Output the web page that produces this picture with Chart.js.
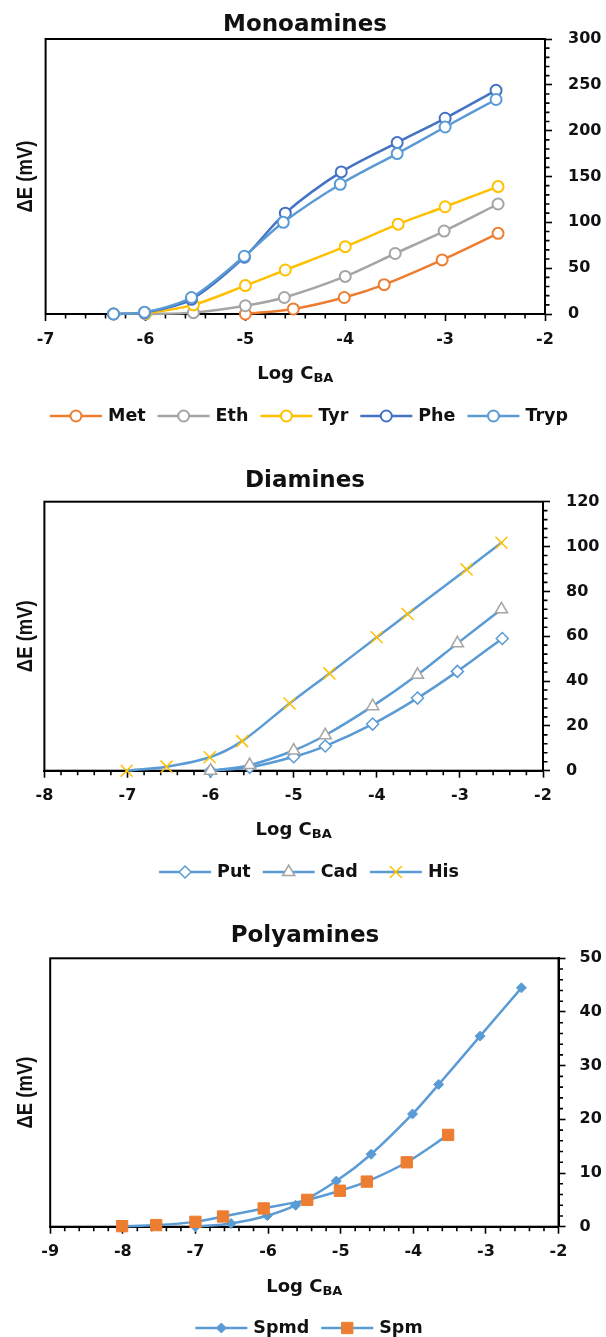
<!DOCTYPE html>
<html>
<head>
<meta charset="utf-8">
<title>Potentiometric response of biogenic amines</title>
<script src="https://cdn.jsdelivr.net/npm/chart.js@4.4.1/dist/chart.umd.min.js"></script>
<style>
  html, body { margin: 0; padding: 0; background: #fff; }
  body { position: relative; width: 606px; height: 1337px; overflow: hidden; }
  canvas { position: absolute; left: 0; }
</style>
</head>
<body>
<canvas id="mono" width="606" height="450" style="top:0px"></canvas>
<canvas id="di" width="606" height="445" style="top:450px"></canvas>
<canvas id="poly" width="606" height="442" style="top:895px"></canvas>
<script>
// ---- Monoamines: log concentration vs. potential change (mV) ----
const metX  = [-5.0, -4.52, -4.01, -3.61, -3.03, -2.47];
const metY  = [0, 5.5, 18, 32, 59, 88];
const ethX  = [-6.0, -5.52, -5.0, -4.61, -4.0, -3.5, -3.01, -2.47];
const ethY  = [0, 1.5, 9, 18, 41, 66, 90.5, 120];
const tyrX  = [-6.32, -6.0, -5.52, -5.0, -4.6, -4.0, -3.47, -3.0, -2.47];
const tyrY  = [0, 1, 10, 31, 48, 73.5, 98, 117, 139];
const pheX  = [-6.32, -6.01, -5.54, -5.01, -4.6, -4.04, -3.48, -3.0, -2.49];
const pheY  = [0, 1.5, 16, 62, 110, 155, 187, 213.5, 244];
const trypX = [-6.32, -6.01, -5.54, -5.01, -4.62, -4.05, -3.48, -3.0, -2.49];
const trypY = [0, 1.8, 18, 63, 100, 141.5, 175, 204, 234];

// ---- Diamines ----
const putX = [-6.0, -5.53, -5.0, -4.62, -4.05, -3.51, -3.03, -2.49];
const putY = [0, 1.5, 6.2, 11, 20.8, 32.4, 44.3, 59];
const cadX = [-6.0, -5.53, -5.0, -4.62, -4.05, -3.51, -3.03, -2.5];
const cadY = [0, 2.5, 9, 15.8, 28.8, 42.8, 56.8, 72];
const hisX = [-7.01, -6.53, -6.01, -5.62, -5.05, -4.57, -4.0, -3.63, -2.92, -2.5];
const hisY = [0, 1.8, 6, 13.2, 30, 43.4, 59.5, 69.9, 89.8, 101.7];

// ---- Polyamines ----
const spmdX = [-7.0, -6.51, -6.01, -5.62, -5.06, -4.58, -4.01, -3.65, -3.08, -2.51];
const spmdY = [0, 0.6, 2.05, 4.0, 8.5, 13.5, 21.0, 26.5, 35.5, 44.5];
const spmX  = [-8.01, -7.54, -7.0, -6.62, -6.06, -5.46, -5.01, -4.64, -4.09, -3.52];
const spmY  = [0.1, 0.3, 0.9, 1.9, 3.4, 5.0, 6.7, 8.4, 12.0, 17.1];

// Axis ranges: [min, max, minor step, major step]
const monoXAxis = [-7, -2, 0.2, 1];
const monoYAxis = [0, 300, 10, 50];
const diXAxis   = [-8, -2, 0.2, 1];
const diYAxis   = [0, 120, 4, 20];
const polyXAxis = [-9, -2, 0.2, 1];
const polyYAxis = [0, 50, 2, 10];

const TEXT = '#111';
const FONT = '"DejaVu Sans", sans-serif';
const ORANGE = '#ED7D31', GREY = '#A5A5A5', GOLD = '#FFC000', BLUE = '#4472C4', LIGHTBLUE = '#5B9BD5';

function series(label, xs, ys, style, order) {
  return Object.assign({
    label,
    data: xs.map((x, i) => ({ x, y: ys[i] })),
    order,
    tension: 0.3,
    borderWidth: 2.5,
    borderCapStyle: 'round',
    borderJoinStyle: 'round',
    fill: false,
    clip: false
  }, style);
}

function ring(color) {
  return { borderColor: color, pointStyle: 'circle', pointRadius: 5.5, pointBorderWidth: 2,
           pointBorderColor: color, pointBackgroundColor: '#fff' };
}

function tickRange(min, max, step) {
  const out = [];
  const n = Math.round((max - min) / step);
  for (let i = 0; i <= n; i++) out.push({ value: +(min + i * step).toFixed(6) });
  return out;
}

function axis(position, spec, pad, fit) {
  const [min, max, minor, major] = spec;
  const isMajor = v => Math.abs(v / major - Math.round(v / major)) < 1e-6;
  return {
    type: 'linear', position, min, max,
    afterBuildTicks: s => { s.ticks = tickRange(min, max, minor); },
    afterFit: fit,
    ticks: {
      autoSkip: false, maxRotation: 0, minRotation: 0, padding: pad, color: TEXT,
      font: { family: FONT, size: 16, weight: 'bold' },
      callback: v => isMajor(v) ? String(Math.round(v)) : ''
    },
    // long marks at labelled values; the short in-between marks are added by the frame plugin
    grid: {
      display: true, drawOnChartArea: false, drawTicks: true, tickLength: 7, tickWidth: 1.6,
      tickColor: c => (c.tick && isMajor(c.tick.value)) ? '#000' : 'rgba(0,0,0,0)'
    },
    border: { display: true, color: '#000', width: 2 }
  };
}

function marker(ctx, style, x, y, r, fill, stroke, bw) {
  const k = Math.SQRT1_2 * r;
  ctx.save();
  ctx.beginPath();
  if (style === 'circle') ctx.arc(x, y, r, 0, 2 * Math.PI);
  else if (style === 'rect') ctx.rect(x - k, y - k, 2 * k, 2 * k);
  else if (style === 'rectRot') { ctx.moveTo(x - r, y); ctx.lineTo(x, y - r); ctx.lineTo(x + r, y); ctx.lineTo(x, y + r); ctx.closePath(); }
  else if (style === 'triangle') { ctx.moveTo(x, y - r); ctx.lineTo(x + r * 0.866, y + r / 2); ctx.lineTo(x - r * 0.866, y + r / 2); ctx.closePath(); }
  else if (style === 'crossRot') { ctx.moveTo(x - k, y - k); ctx.lineTo(x + k, y + k); ctx.moveTo(x + k, y - k); ctx.lineTo(x - k, y + k); }
  if (style !== 'crossRot') { ctx.fillStyle = fill; ctx.fill(); }
  if (bw > 0) { ctx.strokeStyle = stroke; ctx.lineWidth = bw; ctx.stroke(); }
  ctx.restore();
}

// Frame, minor tick marks, titles, axis captions and the line+marker legend
const decor = {
  id: 'decor',
  beforeDatasetsDraw(chart) {
    const { ctx, chartArea: a } = chart;
    ctx.save();
    ctx.strokeStyle = '#000';
    ctx.lineWidth = 1.6;
    const xs = chart.scales.x, ys = chart.scales.y;
    ctx.beginPath();
    xs.ticks.forEach(t => {
      if (t.label !== '') return;
      const px = xs.getPixelForValue(t.value);
      ctx.moveTo(px, a.bottom); ctx.lineTo(px, a.bottom + 4.5);
    });
    ys.ticks.forEach(t => {
      if (t.label !== '') return;
      const py = ys.getPixelForValue(t.value);
      ctx.moveTo(a.right, py); ctx.lineTo(a.right + 4.5, py);
    });
    ctx.stroke();
    ctx.lineWidth = 2;
    ctx.strokeRect(a.left, a.top, a.right - a.left, a.bottom - a.top);
    ctx.restore();
  },
  afterDraw(chart, args, o) {
    const { ctx, chartArea: a } = chart;
    ctx.save();
    ctx.fillStyle = TEXT;

    ctx.font = `bold 23px ${FONT}`;
    ctx.textAlign = 'center';
    ctx.textBaseline = 'middle';
    ctx.fillText(o.title, o.titleX, o.titleY);

    const cx = (a.left + a.right) / 2;
    ctx.textAlign = 'left';
    ctx.textBaseline = 'alphabetic';
    ctx.font = `bold 18px ${FONT}`;
    const w1 = ctx.measureText('Log C').width;
    ctx.font = `bold 13px ${FONT}`;
    const w2 = ctx.measureText('BA').width;
    const x0 = cx - (w1 + w2) / 2;
    ctx.font = `bold 18px ${FONT}`;
    ctx.fillText('Log C', x0, o.xTitleY + 6.5);
    ctx.font = `bold 13px ${FONT}`;
    ctx.fillText('BA', x0 + w1, o.xTitleY + 10);

    ctx.save();
    ctx.translate(o.yTitleX, (a.top + a.bottom) / 2);
    ctx.rotate(-Math.PI / 2);
    ctx.scale(1, 1.18);
    ctx.textAlign = 'center';
    ctx.textBaseline = 'middle';
    ctx.font = 'bold 18.5px "Liberation Sans", sans-serif';
    ctx.fillText('\u0394E (mV)', 0, 0);
    ctx.restore();

    const items = chart.data.datasets;
    const LINE = 52, GAP = 6, SEP = 12;
    ctx.font = `bold 17.5px ${FONT}`;
    const widths = items.map(d => LINE + GAP + ctx.measureText(d.label).width);
    const total = widths.reduce((s, w) => s + w, 0) + SEP * (items.length - 1);
    let x = o.legendX - total / 2;
    const y = o.legendY;
    items.forEach((d, i) => {
      ctx.strokeStyle = d.borderColor;
      ctx.lineWidth = d.borderWidth;
      ctx.lineCap = 'butt';
      ctx.beginPath();
      ctx.moveTo(x, y);
      ctx.lineTo(x + LINE, y);
      ctx.stroke();
      marker(ctx, d.pointStyle, x + LINE / 2, y, d.pointRadius, d.pointBackgroundColor, d.pointBorderColor, d.pointBorderWidth);
      ctx.fillStyle = TEXT;
      ctx.textAlign = 'left';
      ctx.textBaseline = 'middle';
      ctx.fillText(d.label, x + LINE + GAP, y);
      x += widths[i] + SEP;
    });
    ctx.restore();
  }
};

function build(id, area, xSpec, ySpec, yPad, datasets, deco) {
  const cv = document.getElementById(id);
  const W = cv.width, H = cv.height;
  return new Chart(cv, {
    type: 'line',
    data: { datasets },
    options: {
      responsive: false,
      animation: false,
      devicePixelRatio: 1,
      layout: { padding: { left: area.left, top: area.top, right: 0, bottom: 0 } },
      scales: {
        x: axis('bottom', xSpec, 9, s => { s.height = H - area.bottom; }),
        y: axis('right', ySpec, yPad, s => { s.width = W - area.right; })
      },
      plugins: { legend: { display: false }, tooltip: { enabled: false }, decor: deco }
    },
    plugins: [decor]
  });
}

build('mono', { left: 45.6, right: 545, top: 39, bottom: 314 }, monoXAxis, monoYAxis, 16, [
  series('Met', metX, metY, ring(ORANGE), 5),
  series('Eth', ethX, ethY, ring(GREY), 4),
  series('Tyr', tyrX, tyrY, ring(GOLD), 3),
  series('Phe', pheX, pheY, ring(BLUE), 2),
  series('Tryp', trypX, trypY, ring(LIGHTBLUE), 1)
], { title: 'Monoamines', titleX: 305, titleY: 25, xTitleY: 372, yTitleX: 26, legendX: 309, legendY: 416 });

build('di', { left: 44.4, right: 543, top: 51.7, bottom: 320.7 }, diXAxis, diYAxis, 16, [
  series('Put', putX, putY, { borderColor: LIGHTBLUE, pointStyle: 'rectRot', pointRadius: 6, pointBorderWidth: 1.5,
    pointBorderColor: LIGHTBLUE, pointBackgroundColor: '#fff' }, 3),
  series('Cad', cadX, cadY, { borderColor: LIGHTBLUE, pointStyle: 'triangle', pointRadius: 7, pointBorderWidth: 1.5,
    pointBorderColor: GREY, pointBackgroundColor: '#fff' }, 2),
  series('His', hisX, hisY, { borderColor: LIGHTBLUE, pointStyle: 'crossRot', pointRadius: 8.5, pointBorderWidth: 1.5,
    pointBorderColor: GOLD, pointBackgroundColor: GOLD }, 1)
], { title: 'Diamines', titleX: 305, titleY: 31, xTitleY: 378, yTitleX: 26, legendX: 309, legendY: 422 });

build('poly', { left: 50.2, right: 558.5, top: 63.3, bottom: 331.7 }, polyXAxis, polyYAxis, 14, [
  series('Spmd', spmdX, spmdY, { borderColor: LIGHTBLUE, pointStyle: 'rectRot', pointRadius: 5, pointBorderWidth: 1,
    pointBorderColor: LIGHTBLUE, pointBackgroundColor: LIGHTBLUE }, 2),
  series('Spm', spmX, spmY, { borderColor: LIGHTBLUE, pointStyle: 'rect', pointRadius: 8, pointBorderWidth: 1,
    pointBorderColor: ORANGE, pointBackgroundColor: ORANGE }, 1)
], { title: 'Polyamines', titleX: 305, titleY: 41, xTitleY: 390, yTitleX: 26, legendX: 309, legendY: 433 });
</script>
</body>
</html>
